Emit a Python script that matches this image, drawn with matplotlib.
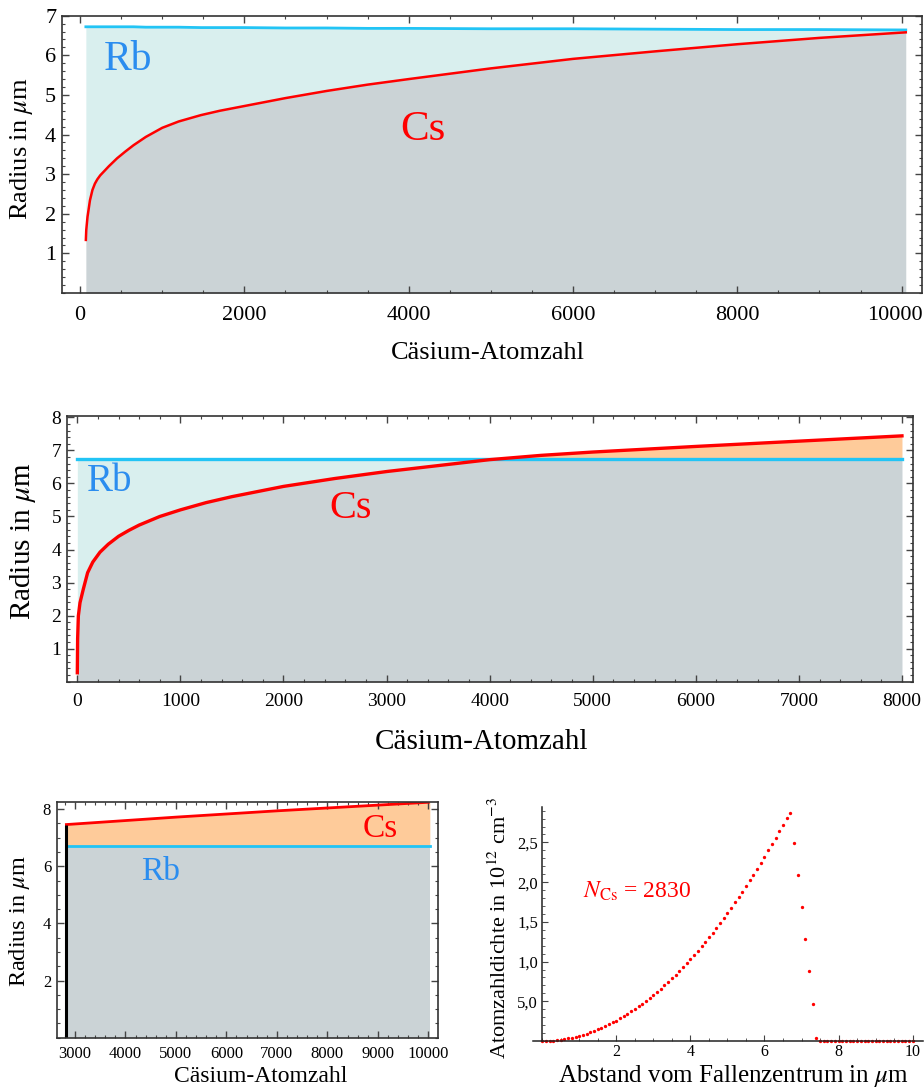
import numpy as np
import matplotlib.pyplot as plt
from matplotlib.ticker import MultipleLocator, FixedLocator
from matplotlib.transforms import ScaledTranslation

plt.rcParams['font.family'] = ['Liberation Serif', 'DejaVu Serif']
plt.rcParams['mathtext.fontset'] = 'stix'

# --- panel 1: radius vs Cs atom number (0..10000)
cs1_n = [70, 75, 90, 120, 150, 180, 210, 245, 300, 350, 450, 550, 650, 800, 1000,
         1200, 1470, 1700, 2000, 2500, 3000, 3500, 4000, 5000, 6000, 7000, 8000,
         9000, 10050]
cs1_r = [1.34, 1.59, 1.92, 2.34, 2.60, 2.76, 2.87, 2.97, 3.09, 3.20, 3.40, 3.57,
         3.73, 3.94, 4.17, 4.33, 4.49, 4.60, 4.72, 4.92, 5.10, 5.26, 5.40, 5.67,
         5.91, 6.10, 6.28, 6.44, 6.58]
rb1_r = [6.72, 6.72, 6.72, 6.72, 6.72, 6.72, 6.72, 6.72, 6.72, 6.72, 6.72, 6.72,
         6.72, 6.71, 6.71, 6.71, 6.70, 6.70, 6.70, 6.69, 6.69, 6.68, 6.68, 6.67,
         6.67, 6.66, 6.65, 6.65, 6.64]

# --- panel 2: radius vs Cs atom number (0..8000)
cs2_n = [0, 3, 10, 26, 58, 100, 150, 220, 300, 400, 500, 600, 800, 1000, 1250,
         1500, 2000, 2500, 3000, 3500, 4000, 4500, 5000, 6000, 7000, 8000]
cs2_r = [0.27, 1.30, 1.99, 2.39, 2.80, 3.30, 3.62, 3.92, 4.16, 4.40, 4.58, 4.74,
         5.00, 5.20, 5.42, 5.60, 5.91, 6.15, 6.36, 6.54, 6.72, 6.85, 6.95, 7.12,
         7.28, 7.44]
rb2_r = [6.73] * len(cs2_n)

# --- panel 3: radius vs Cs atom number (2830..10000)
cs3_n = [2830, 4000, 5000, 6000, 7000, 8000, 9000, 10000, 10030]
cs3_r = [7.46, 7.60, 7.72, 7.83, 7.94, 8.04, 8.14, 8.24, 8.25]
rb3_r = [6.72] * len(cs3_n)
n_start = 2830

# --- panel 4: density profile, N_Cs = 2830
dens_r = np.linspace(0, 10, 101)
dens = [0.0, 0.0006, 0.0026, 0.0058, 0.0103, 0.016, 0.023, 0.032, 0.041, 0.052,
        0.065, 0.078, 0.093, 0.109, 0.126, 0.145, 0.165, 0.186, 0.209, 0.233,
        0.258, 0.284, 0.312, 0.341, 0.372, 0.403, 0.436, 0.470, 0.506, 0.542,
        0.581, 0.620, 0.660, 0.702, 0.746, 0.790, 0.836, 0.883, 0.931, 0.981,
        1.032, 1.084, 1.138, 1.193, 1.249, 1.306, 1.365, 1.425, 1.486, 1.549,
        1.613, 1.678, 1.744, 1.812, 1.881, 1.951, 2.023, 2.096, 2.170, 2.245,
        2.322, 2.400, 2.479, 2.560, 2.642, 2.725, 2.810, 2.875,
        2.49, 2.09, 1.69, 1.29, 0.88, 0.46, 0.04,
        0, 0, 0, 0, 0, 0, 0, 0, 0, 0, 0, 0, 0,
        0, 0, 0, 0, 0, 0, 0, 0, 0, 0, 0, 0, 0]
dens_ticks = [0.5, 1.0, 1.5, 2.0, 2.5]
dens_ticklabels = ['5,0', '1,0', '1,5', '2,0', '2,5']

c_gray = '#cbd3d6'
c_cyan = '#d9efee'
c_orange = '#fecb9a'
c_red = '#ff0000'
c_rbline = '#22c4f5'
c_rbtext = '#2b8def'

W, H = 924, 1090
fig = plt.figure(figsize=(W / 100, H / 100), dpi=100)


def box(l, t, r, b):
    return [l / W, 1 - b / H, (r - l) / W, (b - t) / H]


def P(x, y):
    return x / W, 1 - y / H


def frame(ax, xmin, ymin, size, pad):
    ax.xaxis.set_minor_locator(MultipleLocator(xmin))
    ax.yaxis.set_minor_locator(MultipleLocator(ymin))
    ax.tick_params(which='both', direction='in', top=True, right=True,
                   labelsize=size, color='#444444')
    ax.tick_params(which='major', length=5, width=1)
    ax.tick_params(which='minor', length=2.5, width=0.8)
    ax.tick_params(axis='x', pad=pad)
    ax.tick_params(axis='y', pad=4)
    for s in ax.spines.values():
        s.set_linewidth(1.2)
        s.set_color('#333333')


def fills(ax, n, cs, rb):
    n = np.asarray(n, float)
    cs = np.asarray(cs)
    rb = np.asarray(rb)
    ax.fill_between(n, 0, np.minimum(cs, rb), color=c_gray, lw=0)
    ax.fill_between(n, cs, rb, where=cs <= rb, interpolate=True, color=c_cyan, lw=0)
    ax.fill_between(n, rb, cs, where=cs >= rb, interpolate=True, color=c_orange, lw=0)


# panel 1
ax1 = fig.add_axes(box(61.7, 15.7, 921.7, 293))
fills(ax1, cs1_n, cs1_r, rb1_r)
ax1.plot(cs1_n, rb1_r, color=c_rbline, lw=2)
ax1.plot(cs1_n, cs1_r, color=c_red, lw=1.8)
ax1.set_xlim(-224, 10244)
ax1.set_ylim(0, 7)
ax1.set_xticks(range(0, 10001, 2000))
ax1.set_yticks(range(1, 8))
frame(ax1, 500, 0.2, 16, 9)
last = ax1.get_xticklabels()[-1]
last.set_transform(last.get_transform() + ScaledTranslation(-5 / 72, 0, fig.dpi_scale_trans))
ax1.text(586, 5.88, 'Rb', color=c_rbtext, fontsize=30, ha='center', va='center')
ax1.text(4178, 4.11, 'Cs', color=c_red, fontsize=31, ha='center', va='center')
fig.text(*P(21.7, 148.5), r'Radius in $\mu$m', rotation=90, fontsize=19,
         ha='center', va='center')
fig.text(*P(488, 353), 'Cäsium-Atomzahl', fontsize=19, ha='center', va='center')

# panel 2
ax2 = fig.add_axes(box(66.7, 415.7, 912.7, 681.7))
fills(ax2, cs2_n, cs2_r, rb2_r)
ax2.plot(cs2_n, rb2_r, color=c_rbline, lw=2.4)
ax2.plot(cs2_n, cs2_r, color=c_red, lw=2.4)
ax2.set_xlim(-103, 8104)
ax2.set_ylim(0, 8.05)
ax2.set_xticks(range(0, 8001, 1000))
ax2.set_yticks(range(1, 9))
frame(ax2, 200, 0.2, 14, 8)
ax2.text(317, 6.06, 'Rb', color=c_rbtext, fontsize=28, ha='center', va='center')
ax2.text(2652, 5.25, 'Cs', color=c_red, fontsize=29, ha='center', va='center')
fig.text(*P(23.3, 541), r'Radius in $\mu$m', rotation=90, fontsize=21,
         ha='center', va='center')
fig.text(*P(481, 742), 'Cäsium-Atomzahl', fontsize=21, ha='center', va='center')

# panel 3
ax3 = fig.add_axes(box(56.7, 801.7, 438.3, 1037.7))
fills(ax3, cs3_n, cs3_r, rb3_r)
ax3.plot(cs3_n, rb3_r, color=c_rbline, lw=2)
ax3.plot(cs3_n[:-1], cs3_r[:-1], color=c_red, lw=2)
ax3.vlines(n_start, 0, cs3_r[0], color='black', lw=2.2)
ax3.set_xlim(2638, 10198)
ax3.set_ylim(0, 8.26)
ax3.set_xticks(range(3000, 10001, 1000))
ax3.set_yticks([2, 4, 6, 8])
frame(ax3, 200, 0.5, 12, 6)
ax3.text(9040, 7.33, 'Cs', color=c_red, fontsize=24, ha='center', va='center')
ax3.text(4703, 5.81, 'Rb', color=c_rbtext, fontsize=24, ha='center', va='center')
fig.text(*P(20, 921), r'Radius in $\mu$m', rotation=90, fontsize=17.5,
         ha='center', va='center')
fig.text(*P(261, 1077), 'Cäsium-Atomzahl', fontsize=17, ha='center', va='center')

# panel 4
ax4 = fig.add_axes(box(533.3, 806.7, 922.7, 1041))
ax4.plot(dens_r, dens, 'o', color=c_red, ms=2.4, mec='none', clip_on=False)
ax4.set_xlim(-0.24, 10.27)
ax4.set_ylim(0, 2.95)
ax4.spines['left'].set_position(('data', 0))
ax4.spines['top'].set_visible(False)
ax4.spines['right'].set_visible(False)
for s in ('left', 'bottom'):
    ax4.spines[s].set_linewidth(1.1)
    ax4.spines[s].set_color('#222222')
ax4.set_xticks([2, 4, 6, 8, 10])
ax4.xaxis.set_minor_locator(MultipleLocator(0.5))
ax4.yaxis.set_major_locator(FixedLocator(dens_ticks))
ax4.set_yticklabels(dens_ticklabels)
ax4.yaxis.set_minor_locator(MultipleLocator(0.1))
ax4.tick_params(which='both', direction='in', labelsize=12, color='#444444')
ax4.tick_params(which='major', length=4)
ax4.tick_params(which='minor', length=2)
ax4.tick_params(axis='x', pad=2, labelsize=11.5)
ax4.tick_params(axis='y', pad=3)
ax4.text(2.55, 1.88, r'$N_{\mathrm{Cs}}$ = 2830', color=c_red, fontsize=17,
         ha='center', va='center')
fig.text(*P(500, 928), r'Atomzahldichte in 10$^{12}$ cm$^{-3}$', rotation=90,
         fontsize=16, ha='center', va='center')
fig.text(*P(733, 1076), r'Abstand vom Fallenzentrum in $\mu$m', fontsize=18,
         ha='center', va='center')

fig.savefig('out.png', dpi=100)
